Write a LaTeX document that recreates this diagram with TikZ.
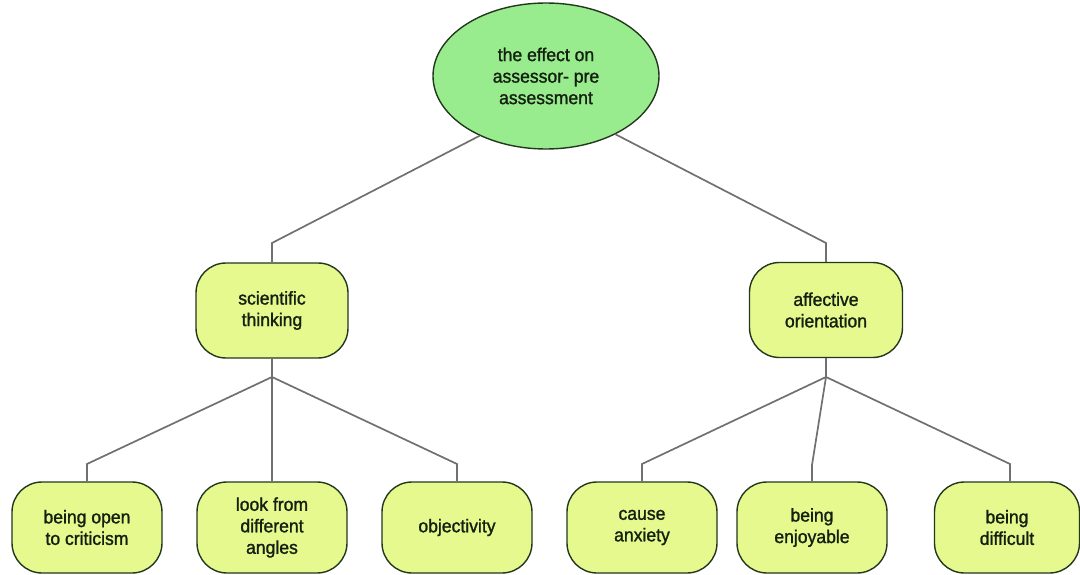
\documentclass[tikz,border=0pt]{standalone}
\usepackage{fontspec}
\setmainfont{Liberation Sans}
\newfontfamily\labelfont{Liberation Sans}[FakeBold=1.3, FakeStretch=0.95]
\usetikzlibrary{shapes.geometric}
\definecolor{rootfill}{RGB}{152,236,142}
\definecolor{boxfill}{RGB}{230,249,142}
\definecolor{edgecol}{RGB}{35,55,30}
\definecolor{conn}{RGB}{112,112,112}
\definecolor{txt}{RGB}{20,32,15}
\begin{document}
\begin{tikzpicture}[x=1pt,y=-1pt,
  every node/.style={font=\labelfont\fontsize{18.5}{21.5}\selectfont, text=txt, align=center},
  conceptbox/.style={draw=edgecol, line width=1.4pt, fill=boxfill, rounded corners=30pt,
    minimum width=150pt, minimum height=91pt, inner sep=0pt},
  rootell/.style={ellipse, draw=edgecol, line width=1.4pt, fill=rootfill,
    minimum width=226pt, minimum height=146pt, inner sep=0pt},
  link/.style={draw=conn, line width=1.7pt}]
\useasboundingbox (0,0) rectangle (1080,575);

\node[rootell] (root) at (546,76) {the effect on\\assessor- pre\\assessment};
\node[conceptbox, minimum width=152pt, minimum height=95pt] (sci) at (272,310.5) {scientific\\thinking};
\node[conceptbox, minimum width=153pt, minimum height=95pt] (aff) at (826,310) {affective\\orientation};

\node[conceptbox] (open) at (87,527.5) {being open\\to criticism};
\node[conceptbox] (look) at (272,527.5) {look from\\different\\angles};
\node[conceptbox] (obj) at (457,527.5) {objectivity};
\node[conceptbox] (anx) at (642,527.5) {cause\\anxiety};
\node[conceptbox] (enj) at (812,527.5) {being\\enjoyable};
\node[conceptbox, minimum width=145pt] (dif) at (1007,527.5) {being\\difficult};

\coordinate (eS) at (272,243);
\coordinate (eA) at (826,243);
\coordinate (bS) at (272,377);
\coordinate (bA) at (826,377);
\coordinate (e1) at (87,464);
\coordinate (e3) at (457,464);
\coordinate (e4) at (642,464);
\coordinate (e5) at (812,465);
\coordinate (e6) at (1010,464);

\draw[link] (root.222) -- (eS) -- (sci.north);
\draw[link] (root.-40) -- (eA) -- (aff.north);

\draw[link] (sci.south) -- (bS) -- (look.north);
\draw[link] (bS) -- (e1) -- (open.north);
\draw[link] (bS) -- (e3) -- (obj.north);

\draw[link] (aff.south) -- (bA);
\draw[link] (bA) -- (e4) -- (anx.north);
\draw[link] (bA) -- (e5) -- (enj.north);
\draw[link] (bA) -- (e6) -- (e6 |- dif.north);
\end{tikzpicture}
\end{document}
